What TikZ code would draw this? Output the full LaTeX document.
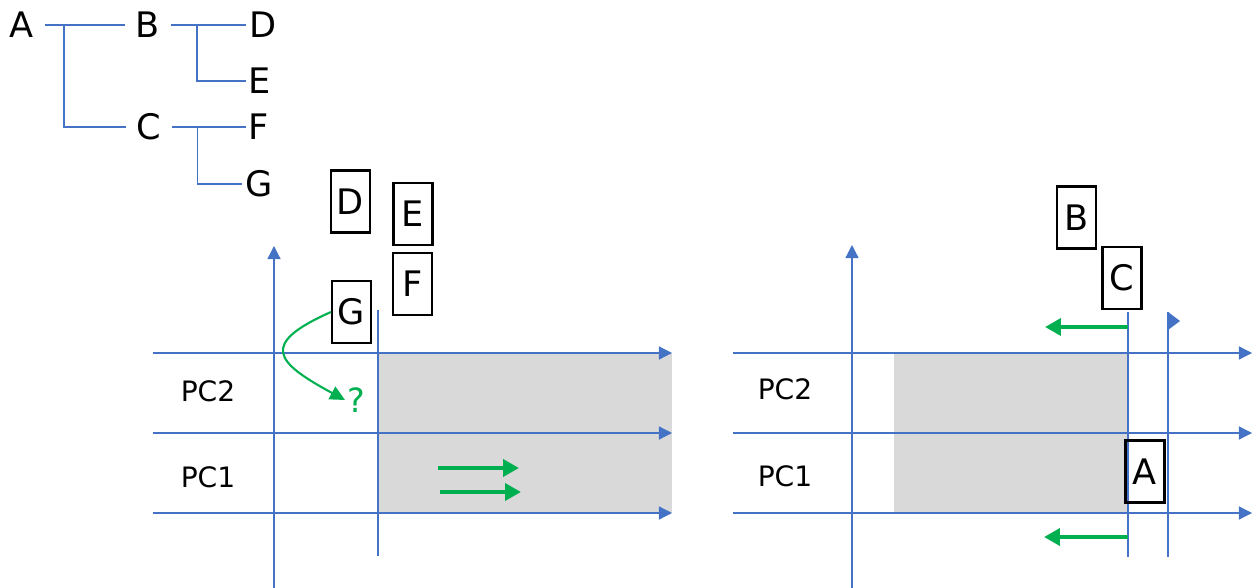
\documentclass[tikz,border=0pt]{standalone}
\usepackage{fontspec}
\setmainfont{DejaVu Sans}
\usetikzlibrary{arrows.meta}
\definecolor{axisblue}{HTML}{4472C4}
\definecolor{markgreen}{HTML}{00B050}
\definecolor{areagray}{HTML}{D9D9D9}

\begin{document}
\begin{tikzpicture}[x=0.02cm, y=-0.02cm,
  letter/.style={inner xsep=6pt, inner ysep=0pt, font=\fontsize{20}{22}\selectfont},
  leaf/.style={letter, inner xsep=1.5pt},
  box/.style={draw=black, line width=1.2pt, inner sep=0pt, minimum width=0.78cm, minimum height=1.24cm, font=\fontsize{20}{22}\selectfont},
  pc/.style={font=\fontsize{16}{18}\selectfont},
  treeline/.style={axisblue, line width=0.7pt},
  guide/.style={axisblue, line width=0.7pt},
  axis/.style={guide, -{Triangle[length=7.5pt,width=7.5pt]}},
  push/.style={markgreen, line width=2.8pt, -{Triangle[length=9pt,width=9.5pt]}}]

\useasboundingbox (0,0) rectangle (1259,588);

% tree
\node[letter] (tA) at (22,25) {A};
\node[letter] (tB) at (148,25) {B};
\node[letter] (tC) at (149,127) {C};
\node[leaf] (tD) at (263,25) {D};
\node[leaf] (tE) at (260,81) {E};
\node[leaf] (tF) at (259,127) {F};
\node[leaf] (tG) at (259,184) {G};
\draw[treeline] (tA.east) -- (tB.west) (tA.east) ++(19,0) |- (tC.west);
\draw[treeline] (tB.east) -- (tD.west) (tB.east) ++(26,0) |- (tE.west);
\draw[treeline] (tC.east) -- (tF.west) (tC.east) ++(25,0) |- (tG.west);

% left chart
\fill[areagray] (378,353) rectangle (672,513);
\draw[axis] (274,588) -- (274,246);
\foreach \y in {353,433,513}
  \draw[axis] (153,\y) -- (672,\y);
\draw[guide] (378,310) -- (378,556);
\node[pc] (pc2L) at (208,391) {PC2};
\node[pc] (pc1L) at (208,477) {PC1};
\node[box] (bD) at (350.5,201.5) {D};
\node[box] (bE) at (413,214) {E};
\node[box] (bF) at (412.5,284) {F};
\node[box] (bG) at (351.5,312) {G};
\node[text=markgreen, font=\fontsize{19}{21}\selectfont, inner sep=1pt] (q) at (356,400) {?};
\draw[markgreen, line width=1.2pt, -{Triangle[length=8.5pt,width=8pt]}]
  (bG.west) .. controls (259,344) and (275,362) .. (q.west);
\draw[push] (438,468) -- (519,468);
\draw[push] (440,492) -- (521,492);

% right chart
\fill[areagray] (894,353) rectangle (1128,513);
\draw[axis] (852,588) -- (852,245);
\foreach \y in {353,433,513}
  \draw[axis] (733,\y) -- (1252,\y);
\draw[guide] (1128,312) -- (1128,557);
\draw[guide] (1168,312) -- (1168,557);
\fill[axisblue] (1168,312) -- (1180,321) -- (1168,330) -- cycle;
\node[pc] (pc2R) at (785,389) {PC2};
\node[pc] (pc1R) at (785,476) {PC1};
\node[box] (bB) at (1076.5,217.5) {B};
\node[box] (bC) at (1122,278) {C};
\node[box] (bA) at (1145,471.5) {A};
\draw[push] (1128,327) -- (1045,327);
\draw[push] (1128,537) -- (1044,537);

\end{tikzpicture}
\end{document}
